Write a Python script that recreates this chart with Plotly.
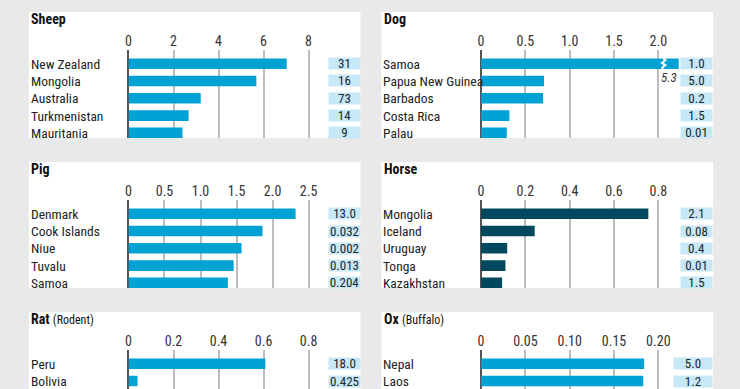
import plotly.graph_objects as go

# ---------------- data ----------------
sheep_countries = ["New Zealand", "Mongolia", "Australia", "Turkmenistan", "Mauritania"]
sheep_values = [7.03, 5.68, 3.21, 2.67, 2.40]
sheep_totals = ["31", "16", "73", "14", "9"]
sheep_ticks = [0, 2, 4, 6, 8]
sheep_ticktext = ["0", "2", "4", "6", "8"]

dog_countries = ["Samoa", "Papua New Guinea", "Barbados", "Costa Rica", "Palau"]
dog_values = [5.3, 0.71, 0.70, 0.32, 0.29]
dog_totals = ["1.0", "5.0", "0.2", "1.5", "0.01"]
dog_ticks = [0, 0.5, 1.0, 1.5, 2.0]
dog_ticktext = ["0", "0.5", "1.0", "1.5", "2.0"]
dog_cap = 2.23  # axis break for the out-of-range bar

pig_countries = ["Denmark", "Cook Islands", "Niue", "Tuvalu", "Samoa"]
pig_values = [2.32, 1.86, 1.57, 1.46, 1.38]
pig_totals = ["13.0", "0.032", "0.002", "0.013", "0.204"]
pig_ticks = [0, 0.5, 1.0, 1.5, 2.0, 2.5]
pig_ticktext = ["0", "0.5", "1.0", "1.5", "2.0", "2.5"]

horse_countries = ["Mongolia", "Iceland", "Uruguay", "Tonga", "Kazakhstan"]
horse_values = [0.755, 0.242, 0.118, 0.110, 0.095]
horse_totals = ["2.1", "0.08", "0.4", "0.01", "1.5"]
horse_ticks = [0, 0.2, 0.4, 0.6, 0.8]
horse_ticktext = ["0", "0.2", "0.4", "0.6", "0.8"]

rat_countries = ["Peru", "Bolivia"]
rat_values = [0.608, 0.040]
rat_totals = ["18.0", "0.425"]
rat_ticks = [0, 0.2, 0.4, 0.6, 0.8]
rat_ticktext = ["0", "0.2", "0.4", "0.6", "0.8"]

ox_countries = ["Nepal", "Laos"]
ox_values = [0.184, 0.183]
ox_totals = ["5.0", "1.2"]
ox_ticks = [0, 0.05, 0.10, 0.15, 0.20]
ox_ticktext = ["0", "0.05", "0.10", "0.15", "0.20"]

# ---------------- style / layout ----------------
W, H = 740, 389
FONT = "Roboto Condensed, DejaVu Sans Condensed, sans-serif"
BG = "#e9e9e9"
BLUE = "#00a2d3"
DARK = "#00485d"
BOX = "#c7e8f6"
TXT = "#222222"

def px(x):
    return x / W

def py(y):
    return 1 - y / H

panels = [
    # title, subtitle, countries, values, totals, ticks, ticktext, col, row, color, box width
    ("Sheep", "", sheep_countries, sheep_values, sheep_totals, sheep_ticks, sheep_ticktext, 0, 0, BLUE, 31),
    ("Dog", "", dog_countries, dog_values, dog_totals, dog_ticks, dog_ticktext, 1, 0, BLUE, 31),
    ("Pig", "", pig_countries, pig_values, pig_totals, pig_ticks, pig_ticktext, 0, 1, BLUE, 31),
    ("Horse", "", horse_countries, horse_values, horse_totals, horse_ticks, horse_ticktext, 1, 1, DARK, 31),
    ("Rat", "(Rodent)", rat_countries, rat_values, rat_totals, rat_ticks, rat_ticktext, 0, 2, BLUE, 31),
    ("Ox", "(Buffalo)", ox_countries, ox_values, ox_totals, ox_ticks, ox_ticktext, 1, 2, BLUE, 38),
]

col_left = [26, 380]
col_right = [359, 713]
col_zero = [126, 480]
col_lastgrid = [306.8, 658]
col_plotright = [318, 681]
row_off = [0, 150, 300]
ROW_S = 17.3

fig = go.Figure()
layout = dict(
    width=W, height=H, margin=dict(l=0, r=0, t=0, b=0),
    paper_bgcolor=BG, plot_bgcolor="rgba(0,0,0,0)",
    showlegend=False, font=dict(family=FONT, color=TXT),
)
shapes = []
annotations = []

for k, (title, sub, cats, vals, tots, tvals, ttext, col, row, color, bw) in enumerate(panels):
    i = k + 1
    xa = "xaxis" if i == 1 else f"xaxis{i}"
    ya = "yaxis" if i == 1 else f"yaxis{i}"
    xr = "x" if i == 1 else f"x{i}"
    yr = "y" if i == 1 else f"y{i}"
    off = row_off[row]
    ptop = 50 + off
    pbot = min(138 + off, H)
    pan_bot = min(138 + off, H + 5)
    c0 = 63.7 + off

    # white panel
    shapes.append(dict(type="rect", xref="paper", yref="paper", layer="below",
                       x0=px(col_left[col]), x1=px(col_right[col]),
                       y0=py(pan_bot), y1=py(12 + off),
                       fillcolor="white", line=dict(width=0)))

    zero = col_zero[col]
    scale = (col_lastgrid[col] - zero) / tvals[-1]
    xmax = (col_plotright[col] - zero) / scale

    idx = list(range(len(cats)))
    shown = [min(v, dog_cap) if title == "Dog" else v for v in vals]
    fig.add_trace(go.Bar(x=shown, y=idx, orientation="h", marker=dict(color=color, line=dict(width=0)),
                         width=0.61, xaxis=xr, yaxis=yr, hoverinfo="skip"))

    layout[xa] = dict(domain=[px(zero), px(col_plotright[col])], range=[0, xmax], side="top",
                      anchor=yr, tickvals=tvals, ticktext=ttext, showgrid=True,
                      gridcolor="#bdbdbd", gridwidth=1.5, zeroline=True, zerolinecolor="#555555",
                      zerolinewidth=2, showline=False, ticks="",
                      tickfont=dict(size=14, color="#333333", family=FONT), fixedrange=True)
    layout[ya] = dict(domain=[py(pbot), py(ptop)],
                      range=[(pbot - c0) / ROW_S, (ptop - c0) / ROW_S],
                      anchor=xr, showgrid=False, zeroline=False, showticklabels=False,
                      showline=False, ticks="", fixedrange=True)

    # title
    ttl = f"<b>{title}</b>"
    if sub:
        ttl += f" <span style='font-size:12px'>{sub}</span>"
    annotations.append(dict(text=ttl, xref="paper", yref="paper", x=px(col_left[col] + 0.5),
                            y=py(19 + off), xanchor="left", yanchor="middle", showarrow=False,
                            font=dict(size=14, color="#111111", family=FONT)))

    for j, (c, t) in enumerate(zip(cats, tots)):
        annotations.append(dict(text=c, xref="paper", yref=yr, x=px(col_left[col]), y=j,
                                xanchor="left", yanchor="middle", showarrow=False,
                                font=dict(size=13.5, color=TXT, family=FONT)))
        annotations.append(dict(text=t, xref="paper", yref=yr, x=px(col_right[col]), y=j,
                                xanchor="right", yanchor="middle", showarrow=False,
                                width=bw, height=11, borderpad=0, bgcolor=BOX, align="center",
                                font=dict(size=13, color="#1b2633", family=FONT)))

    if title == "Dog":
        # axis break zig-zag on the capped bar and the true value label
        bx = dog_cap - 0.18
        fig.add_trace(go.Scatter(x=[bx, bx + 0.03, bx - 0.01, bx + 0.03, bx - 0.005, bx],
                                 y=[-0.36, -0.2, -0.05, 0.08, 0.22, 0.36],
                                 mode="lines", line=dict(color="white", width=2),
                                 xaxis=xr, yaxis=yr, hoverinfo="skip"))
        annotations.append(dict(text=f"<i>{vals[0]}</i>", xref=xr, yref=yr, x=dog_cap, y=0.82,
                                xanchor="right", yanchor="middle", showarrow=False,
                                font=dict(size=13, color="#333333", family=FONT)))

layout["shapes"] = shapes
layout["annotations"] = annotations
fig.update_layout(**layout)
fig.write_html("out.html", config={"displayModeBar": False},
               post_script="document.body.style.margin='0';")
